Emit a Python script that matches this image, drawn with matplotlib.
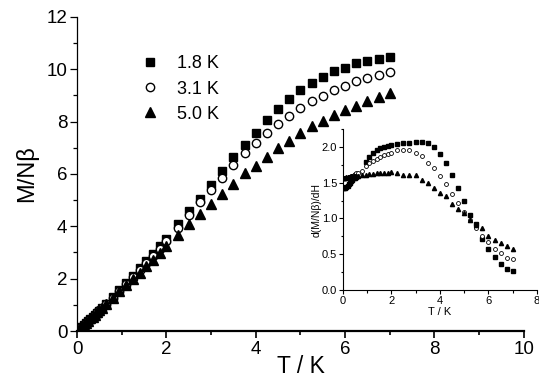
import matplotlib
matplotlib.use("Agg")
import matplotlib.pyplot as plt
from matplotlib.ticker import MultipleLocator

plt.rcParams.update({
    "font.family": ["Liberation Sans", "DejaVu Sans"],
    "font.size": 10,
    "xtick.direction": "out",
    "ytick.direction": "out",
})

# field values (T) and reduced magnetisation
field = [0, 0.05, 0.1, 0.15, 0.2, 0.25, 0.3, 0.35, 0.4, 0.45, 0.5, 0.55,
         0.65, 0.8, 0.95, 1.1, 1.25, 1.4, 1.55, 1.7, 1.85, 2.0,
         2.25, 2.5, 2.75, 3.0, 3.25, 3.5, 3.75, 4.0, 4.25, 4.5,
         4.75, 5.0, 5.25, 5.5, 5.75, 6.0, 6.25, 6.5, 6.75, 7.0]
m_18 = [0, 0.07, 0.15, 0.22, 0.30, 0.38, 0.46, 0.54, 0.62, 0.70, 0.78, 0.87,
        1.03, 1.29, 1.55, 1.83, 2.10, 2.39, 2.67, 2.95, 3.24, 3.53,
        4.07, 4.57, 5.06, 5.59, 6.12, 6.63, 7.10, 7.58, 8.07, 8.49,
        8.85, 9.20, 9.49, 9.71, 9.92, 10.06, 10.22, 10.31, 10.39, 10.45]
m_31 = [0, 0.08, 0.16, 0.24, 0.31, 0.39, 0.47, 0.55, 0.63, 0.71, 0.79, 0.87,
        1.03, 1.28, 1.53, 1.79, 2.05, 2.32, 2.59, 2.87, 3.15, 3.45,
        3.92, 4.43, 4.91, 5.38, 5.86, 6.35, 6.79, 7.19, 7.57, 7.90,
        8.22, 8.51, 8.78, 8.98, 9.20, 9.35, 9.54, 9.66, 9.76, 9.90]
m_50 = [0, 0.08, 0.16, 0.24, 0.32, 0.40, 0.48, 0.55, 0.63, 0.71, 0.79, 0.87,
        1.03, 1.27, 1.51, 1.75, 1.99, 2.23, 2.48, 2.72, 2.97, 3.24,
        3.66, 4.07, 4.47, 4.87, 5.25, 5.63, 6.02, 6.31, 6.65, 6.98,
        7.27, 7.57, 7.82, 8.03, 8.24, 8.46, 8.61, 8.78, 8.94, 9.10]

# derivative (inset)
field_d18 = [0, 0.05, 0.1, 0.15, 0.2, 0.25, 0.3, 0.35, 0.4, 0.45, 0.5, 0.55,
             0.95, 1.1, 1.25, 1.4, 1.55, 1.7, 1.85, 2.0,
             2.25, 2.5, 2.75, 3.0, 3.25, 3.5, 3.75, 4.0, 4.25, 4.5,
             4.75, 5.0, 5.25, 5.5, 5.75, 6.0, 6.25, 6.5, 6.75, 7.0]
d_18 = [1.42, 1.42, 1.43, 1.44, 1.46, 1.48, 1.50, 1.52, 1.54, 1.56, 1.57, 1.58,
        1.79, 1.86, 1.92, 1.96, 1.98, 2.00, 2.01, 2.02,
        2.04, 2.05, 2.06, 2.07, 2.07, 2.05, 2.00, 1.90, 1.77, 1.61,
        1.43, 1.24, 1.05, 0.92, 0.71, 0.57, 0.46, 0.37, 0.29, 0.26]
d_31 = [1.56, 1.56, 1.57, 1.57, 1.57, 1.58, 1.58, 1.59, 1.60, 1.61, 1.62, 1.63,
        1.64, 1.67, 1.73, 1.77, 1.80, 1.83, 1.86, 1.88, 1.90, 1.92,
        1.95, 1.96, 1.95, 1.92, 1.87, 1.78, 1.70, 1.59, 1.48, 1.34,
        1.22, 1.09, 0.98, 0.86, 0.75, 0.67, 0.58, 0.52, 0.45, 0.43]
d_50 = [1.57, 1.57, 1.57, 1.58, 1.58, 1.58, 1.58, 1.59, 1.59, 1.59, 1.59, 1.60,
        1.60, 1.61, 1.61, 1.62, 1.62, 1.63, 1.63, 1.64, 1.64, 1.65,
        1.64, 1.61, 1.61, 1.61, 1.54, 1.49, 1.43, 1.36, 1.31, 1.20,
        1.13, 1.08, 0.98, 0.91, 0.86, 0.75, 0.70, 0.66, 0.61, 0.58]

labels = ["1.8 K", "3.1 K", "5.0 K"]

fig = plt.figure(figsize=(5.39, 3.79), dpi=100)
ax = fig.add_axes([0.1429, 0.1266, 0.829, 0.829])

ax.plot(field, m_18, ls="none", marker="s", ms=5.8, mfc="black", mec="black", label=labels[0])
ax.plot(field, m_31, ls="none", marker="o", ms=6.0, mfc="white", mec="black", mew=1.0, label=labels[1])
ax.plot(field, m_50, ls="none", marker="^", ms=6.6, mfc="black", mec="black", label=labels[2])

ax.set_xlim(0, 10)
ax.set_ylim(0, 12)
ax.xaxis.set_major_locator(MultipleLocator(2))
ax.xaxis.set_minor_locator(MultipleLocator(1))
ax.yaxis.set_major_locator(MultipleLocator(2))
ax.yaxis.set_minor_locator(MultipleLocator(1))
for s in ["top", "right"]:
    ax.spines[s].set_visible(False)
ax.spines["bottom"].set_linewidth(1.6)
ax.spines["left"].set_linewidth(0.9)
ax.tick_params(axis="x", which="major", length=5, width=1.2, labelsize=13.5, pad=2)
ax.tick_params(axis="x", which="minor", length=3, width=1.2)
ax.tick_params(axis="y", which="major", length=5, width=0.9, labelsize=13.5, pad=2)
ax.tick_params(axis="y", which="minor", length=3, width=0.9)
ax.set_xlabel("T / K", fontsize=16.5, labelpad=-2)
ax.set_ylabel("M/Nβ", fontsize=17, labelpad=6)

ax.legend(loc="upper left", bbox_to_anchor=(0.126, 0.90), frameon=False,
          fontsize=13, handlelength=1.0, handletextpad=1.0, labelspacing=0.45,
          numpoints=1, borderaxespad=0)

# inset
axi = fig.add_axes([0.6358, 0.2348, 0.3605, 0.4248])
axi.plot(field_d18, d_18, ls="none", marker="s", ms=2.6, mfc="black", mec="black")
axi.plot(field, d_31, ls="none", marker="o", ms=2.8, mfc="white", mec="black", mew=0.6)
axi.plot(field, d_50, ls="none", marker="^", ms=3.0, mfc="black", mec="black")
axi.set_xlim(0, 8)
axi.set_ylim(0, 2.25)
axi.xaxis.set_major_locator(MultipleLocator(2))
axi.xaxis.set_minor_locator(MultipleLocator(1))
axi.yaxis.set_major_locator(MultipleLocator(0.5))
axi.yaxis.set_minor_locator(MultipleLocator(0.25))
for s in ["top", "right"]:
    axi.spines[s].set_visible(False)
for s in ["bottom", "left"]:
    axi.spines[s].set_linewidth(0.8)
axi.tick_params(which="major", length=3, width=0.8, labelsize=8, pad=1)
axi.tick_params(which="minor", length=1.8, width=0.8)
axi.set_xlabel("T / K", fontsize=8, labelpad=1)
axi.set_ylabel("d(M/Nβ)/dH", fontsize=7.5, labelpad=0)

fig.savefig("out.png", dpi=100)
